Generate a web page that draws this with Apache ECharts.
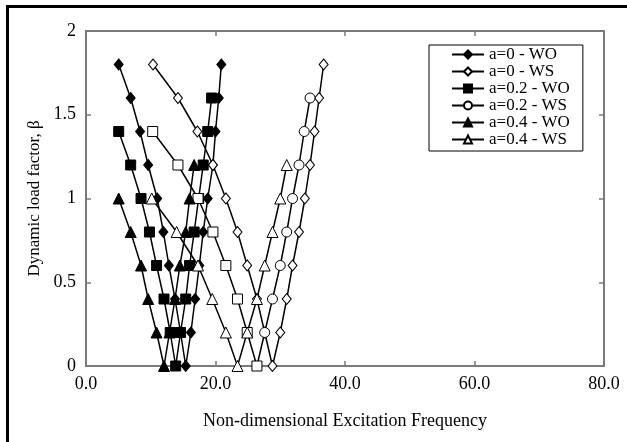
<!DOCTYPE html>
<html><head><meta charset="utf-8">
<script src="https://cdn.jsdelivr.net/npm/echarts@6/dist/echarts.min.js"></script>
<style>html,body{margin:0;padding:0;background:#fff}#c{width:627px;height:442px}</style>
</head><body><div id="c"></div><script>
// ---- data ----
const seriesNames = ['a=0 - WO', 'a=0 - WS', 'a=0.2 - WO', 'a=0.2 - WS', 'a=0.4 - WO', 'a=0.4 - WS'];
const xTickLabels = ['0.0', '20.0', '40.0', '60.0', '80.0'];
const yTickLabels = ['0', '0.5', '1', '1.5', '2'];

const a0WO_x = [5.05, 6.9, 8.35, 9.6, 11.0, 11.95, 12.8, 13.75, 14.6, 15.4, 16.2, 16.85, 17.5, 18.1, 18.8, 19.6, 20.0, 20.5, 20.9];
const a0WO_y = [1.8, 1.6, 1.4, 1.2, 1.0, 0.8, 0.6, 0.4, 0.2, 0, 0.2, 0.4, 0.6, 0.8, 1.0, 1.2, 1.4, 1.6, 1.8];
const a0WS_x = [10.35, 14.2, 17.2, 19.6, 21.6, 23.4, 24.9, 26.4, 27.6, 28.8, 30.0, 31.0, 31.9, 32.9, 33.8, 34.6, 35.3, 36.0, 36.7];
const a0WS_y = [1.8, 1.6, 1.4, 1.2, 1.0, 0.8, 0.6, 0.4, 0.2, 0, 0.2, 0.4, 0.6, 0.8, 1.0, 1.2, 1.4, 1.6, 1.8];
const a02WO_x = [5.05, 6.9, 8.5, 9.8, 10.9, 12.05, 13.0, 13.85, 14.6, 15.4, 16.0, 16.7, 17.4, 18.1, 18.8, 19.4];
const a02WO_y = [1.4, 1.2, 1.0, 0.8, 0.6, 0.4, 0.2, 0, 0.2, 0.4, 0.6, 0.8, 1.0, 1.2, 1.4, 1.6];
const a02WS_x = [10.3, 14.2, 17.3, 19.6, 21.6, 23.4, 24.9, 26.4, 27.6, 28.8, 30.0, 31.0, 31.9, 32.9, 33.7, 34.6];
const a02WS_y = [1.4, 1.2, 1.0, 0.8, 0.6, 0.4, 0.2, 0, 0.2, 0.4, 0.6, 0.8, 1.0, 1.2, 1.4, 1.6];
const a04WO_x = [5.05, 6.9, 8.5, 9.6, 10.9, 12.05, 12.9, 13.75, 14.5, 15.4, 16.0, 16.7];
const a04WO_y = [1.0, 0.8, 0.6, 0.4, 0.2, 0, 0.2, 0.4, 0.6, 0.8, 1.0, 1.2];
const a04WS_x = [10.15, 14.0, 17.3, 19.5, 21.6, 23.4, 24.9, 26.4, 27.6, 28.8, 30.0, 31.0];
const a04WS_y = [1.0, 0.8, 0.6, 0.4, 0.2, 0, 0.2, 0.4, 0.6, 0.8, 1.0, 1.2];

// ---- styling ----
const FONT = 'Liberation Serif, Times New Roman, serif';
const AX = '#7a7a7a';
const xs = [a0WO_x, a0WS_x, a02WO_x, a02WS_x, a04WO_x, a04WS_x];
const ys = [a0WO_y, a0WS_y, a02WO_y, a02WS_y, a04WO_y, a04WS_y];
const sym = ['diamond', 'diamond', 'rect', 'circle', 'triangle', 'triangle'];
const filled = [true, false, true, false, true, false];
const sizes = [[9, 11], [9, 11], 10, 10, 11, 11];

const series = seriesNames.map((name, i) => {
  const xv = xs[i], yv = ys[i];
  const minIdx = yv.indexOf(Math.min(...yv));
  const data = xv.map((x, k) => {
    const d = { value: [x, yv[k]] };
    // a=0.2 - WS: descending branch drawn with open squares
    if (i === 3 && k <= minIdx) { d.symbol = 'rect'; d.symbolSize = 10; }
    return d;
  });
  return {
    name, type: 'line', data,
    symbol: sym[i], symbolSize: sizes[i],
    showAllSymbol: true,
    lineStyle: { color: '#000', width: 1.5 },
    itemStyle: { color: filled[i] ? '#000' : '#fff', borderColor: '#000', borderWidth: 1 },
    emphasis: { disabled: true },
    animation: false
  };
});

const axisCommon = (pos) => ({
  axisLine: { show: true, onZero: false, lineStyle: { color: AX, width: 2 } },
  axisTick: { show: true, inside: true, length: 5, lineStyle: { color: AX, width: 1.5 } },
  splitLine: { show: false },
  position: pos
});

const chart = echarts.init(document.getElementById('c'), null, { renderer: 'canvas' });
chart.setOption({
  animation: false,
  backgroundColor: '#fff',
  grid: { left: 86, right: 23, top: 31, bottom: 76, containLabel: false, outerBoundsMode: 'none' },
  xAxis: [
    Object.assign(axisCommon('bottom'), {
      type: 'value', min: 0, max: 80, interval: 20,
      axisLabel: { formatter: (v) => xTickLabels[Math.round(v / 20)], fontFamily: FONT, fontSize: 18, color: '#000', margin: 9 },
      name: 'Non-dimensional Excitation Frequency', nameLocation: 'middle', nameGap: 46,
      nameTextStyle: { fontFamily: FONT, fontSize: 18, color: '#000' }
    }),
    Object.assign(axisCommon('top'), {
      type: 'value', min: 0, max: 80, interval: 20, axisLabel: { show: false }
    })
  ],
  yAxis: [
    Object.assign(axisCommon('left'), {
      type: 'value', min: 0, max: 2, interval: 0.5,
      axisLabel: { formatter: (v) => yTickLabels[Math.round(v / 0.5)], fontFamily: FONT, fontSize: 18, color: '#000', margin: 10 },
      name: 'Dynamic load factor, β', nameLocation: 'middle', nameGap: 42,
      nameTextStyle: { fontFamily: FONT, fontSize: 17, color: '#000' }
    }),
    Object.assign(axisCommon('right'), {
      type: 'value', min: 0, max: 2, interval: 0.5, axisLabel: { show: false }
    })
  ],
  legend: {
    data: seriesNames, orient: 'vertical', left: 429, top: 45,
    backgroundColor: '#fff', borderColor: '#000', borderWidth: 1,
    padding: [1, 13, 3, 22], itemGap: 0, itemWidth: 32, itemHeight: 10,
    textStyle: { fontFamily: FONT, fontSize: 17, color: '#000', lineHeight: 14 },
    selectedMode: false
  },
  graphic: [{
    type: 'rect', left: 5, top: 4, silent: true,
    shape: { x: 0, y: 0, width: 660, height: 480 },
    style: { fill: 'none', stroke: '#000', lineWidth: 3 }
  }],
  series
});
</script></body></html>
